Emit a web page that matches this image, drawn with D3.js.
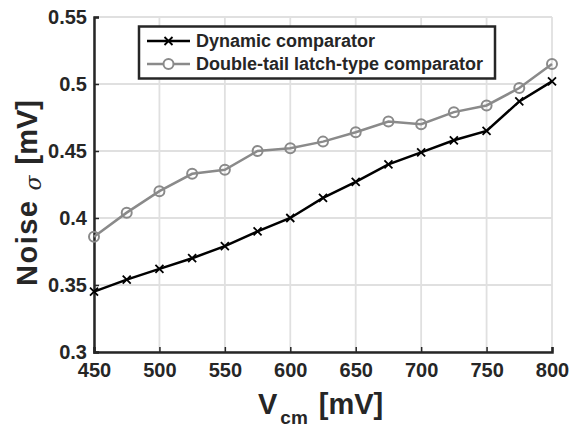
<!DOCTYPE html>
<html><head><meta charset="utf-8">
<script src="https://cdn.jsdelivr.net/npm/d3@7"></script>
<style>body{margin:0;background:#fff;} text{font-family:"Liberation Sans",Arial,sans-serif;font-weight:bold;fill:#262626;}</style>
</head><body>
<svg id="c" width="577" height="430"></svg>
<script>
const vcm = [450,475,500,525,550,575,600,625,650,675,700,725,750,775,800];
const dynamicNoise = [0.345,0.354,0.362,0.370,0.379,0.390,0.400,0.415,0.427,0.440,0.449,0.458,0.465,0.487,0.502];
const doubleTailNoise = [0.386,0.404,0.420,0.433,0.436,0.450,0.452,0.457,0.464,0.472,0.470,0.479,0.484,0.497,0.515];
const xTicks = [450,500,550,600,650,700,750,800];
const yTicks = [0.3,0.35,0.4,0.45,0.5,0.55];
const seriesNames = ["Dynamic comparator","Double-tail latch-type comparator"];

const svg = d3.select("#c");
const m = {l:94, r:25, t:17, b:78};
const W = 577, H = 430;
const x = d3.scaleLinear().domain([450,800]).range([m.l, W-m.r]);
const y = d3.scaleLinear().domain([0.3,0.55]).range([H-m.b, m.t]);

// grid
const g = svg.append("g");
g.selectAll(".vg").data(xTicks).enter().append("line")
  .attr("x1",d=>x(d)).attr("x2",d=>x(d)).attr("y1",y(0.3)).attr("y2",y(0.55))
  .attr("stroke","#e0e0e0").attr("stroke-width",1.8);
g.selectAll(".hg").data(yTicks).enter().append("line")
  .attr("y1",d=>y(d)).attr("y2",d=>y(d)).attr("x1",x(450)).attr("x2",x(800))
  .attr("stroke","#e0e0e0").attr("stroke-width",1.8);

// axes
const xAxis = d3.axisBottom(x).tickValues(xTicks).tickSize(-5).tickPadding(11).tickFormat(d3.format("d"));
const yAxis = d3.axisLeft(y).tickValues(yTicks).tickSize(-5).tickPadding(7).tickFormat(d=>String(+d.toFixed(2)));
const gx = svg.append("g").attr("transform",`translate(0,${y(0.3)})`).call(xAxis);
const gy = svg.append("g").attr("transform",`translate(${x(450)},0)`).call(yAxis);
[gx,gy].forEach(a=>{
  a.select(".domain").attr("stroke","#262626").attr("stroke-width",2.5);
  a.selectAll(".tick line").attr("stroke","#262626").attr("stroke-width",1.5);
  a.selectAll(".tick text").attr("font-size",20).attr("font-family","Liberation Sans, Arial").attr("font-weight","bold").attr("fill","#262626");
});

// lines
const line = d3.line().x((d,i)=>x(vcm[i])).y(d=>y(d));
svg.append("path").datum(doubleTailNoise).attr("d",line).attr("fill","none").attr("stroke","#8a8a8a").attr("stroke-width",2.5);
svg.append("path").datum(dynamicNoise).attr("d",line).attr("fill","none").attr("stroke","#000").attr("stroke-width",2.5);

svg.selectAll(".cm").data(doubleTailNoise).enter().append("circle")
  .attr("cx",(d,i)=>x(vcm[i])).attr("cy",d=>y(d)).attr("r",5)
  .attr("fill","none").attr("stroke","#8a8a8a").attr("stroke-width",2);
const xm = 4;
svg.selectAll(".xm").data(dynamicNoise).enter().append("path")
  .attr("d",(d,i)=>{const cx=x(vcm[i]),cy=y(d);return `M${cx-xm},${cy-xm}L${cx+xm},${cy+xm}M${cx-xm},${cy+xm}L${cx+xm},${cy-xm}`;})
  .attr("stroke","#000").attr("stroke-width",1.8);

// legend
const lg = svg.append("g");
lg.append("rect").attr("x",139).attr("y",26.5).attr("width",356).attr("height",52)
  .attr("fill","#fff").attr("stroke","#262626").attr("stroke-width",2.5);
const ly = [41,64];
const cols = ["#000","#8a8a8a"];
ly.forEach((yy,i)=>{
  lg.append("line").attr("x1",147).attr("x2",190).attr("y1",yy).attr("y2",yy).attr("stroke",cols[i]).attr("stroke-width",2.5);
  if(i===0){
    lg.append("path").attr("d",`M${168.5-xm},${yy-xm}L${168.5+xm},${yy+xm}M${168.5-xm},${yy+xm}L${168.5+xm},${yy-xm}`).attr("stroke","#000").attr("stroke-width",1.8);
  } else {
    lg.append("circle").attr("cx",168.5).attr("cy",yy).attr("r",5).attr("fill","#fff").attr("stroke",cols[i]).attr("stroke-width",2);
  }
  lg.append("text").attr("x",196).attr("y",yy).attr("dy","0.36em").attr("font-size",18).text(seriesNames[i]);
});

// axis titles
const xt = svg.append("text").attr("x",258).attr("y",414).attr("font-size",29);
xt.append("tspan").text("V");
xt.append("tspan").attr("font-size",19).attr("dx",3).attr("dy",10).text("cm");
xt.append("tspan").attr("dy",-10).attr("dx",11).text("[mV]");

const yt = svg.append("text").attr("transform","translate(37,286) rotate(-90)").attr("text-anchor","start").attr("font-size",29);
yt.append("tspan").attr("letter-spacing","1.5px").text("Noise");
yt.append("tspan").attr("dx",9).attr("dy",4).attr("font-style","italic").attr("font-weight","normal").attr("font-family","DejaVu Serif").attr("font-size",22).text("σ");
yt.append("tspan").attr("dx",11).attr("dy",-4).text("[mV]");
</script>
</body></html>
